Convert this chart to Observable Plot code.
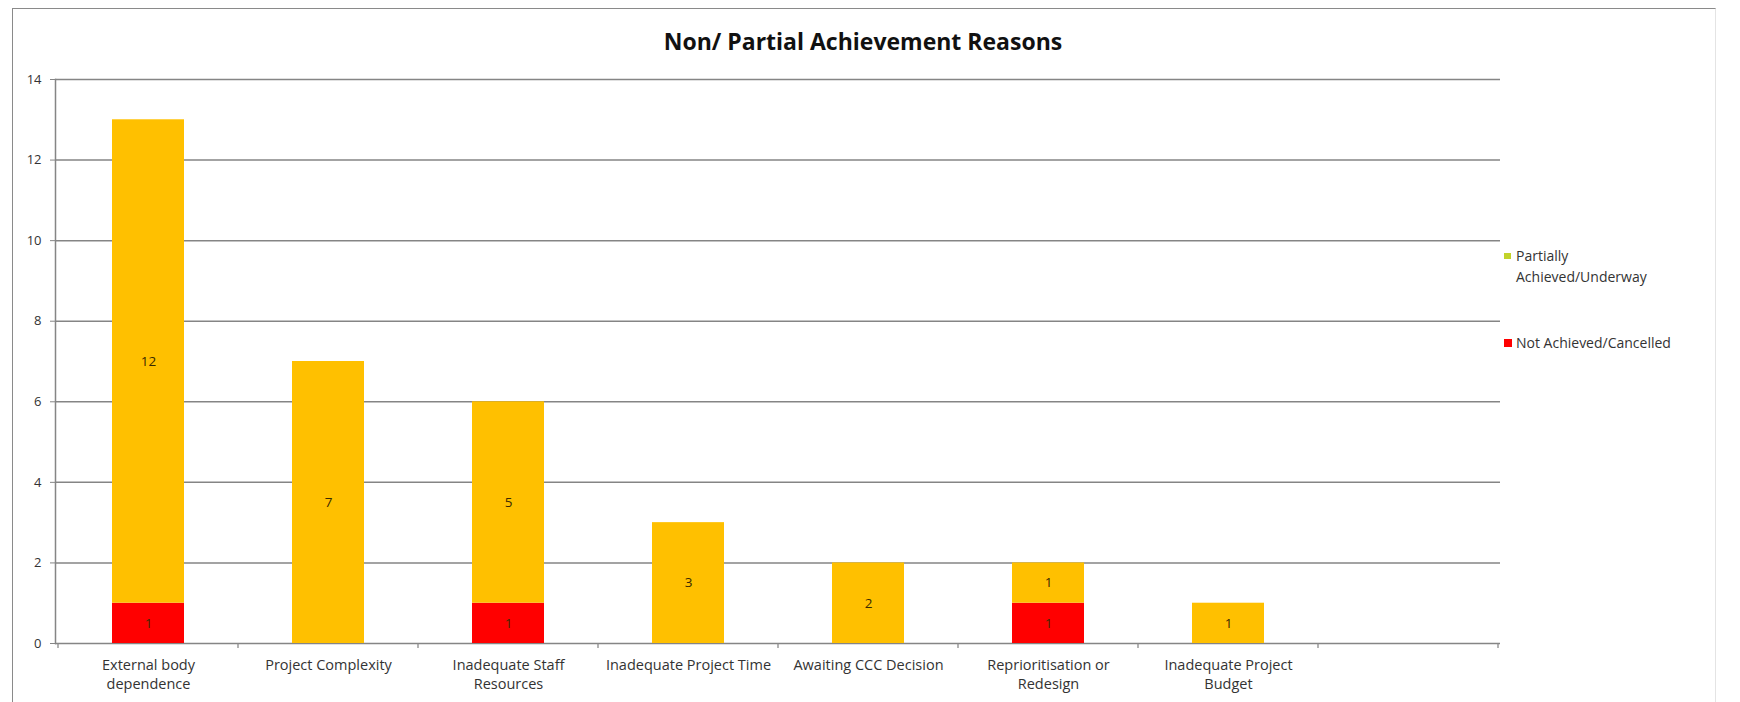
<!DOCTYPE html>
<html>
<head>
<meta charset="utf-8">
<script src="https://cdn.jsdelivr.net/npm/d3@7"></script>
<script src="https://cdn.jsdelivr.net/npm/@observablehq/plot@0.6"></script>
<style>
  html, body { margin: 0; padding: 0; background: #fff; }
  #wrap { position: relative; width: 1740px; height: 702px; overflow: hidden; font-family: "Open Sans", sans-serif; }
  #border { position: absolute; left: 12px; top: 8px; width: 1704px; height: 720px; border: 1.5px solid #8a8a8a; border-right-color: #e4e4e4; box-sizing: border-box; }
  #title { position: absolute; left: 0; width: 1726px; top: 25px; text-align: center; font-weight: 700; font-size: 23px; color: #111; }
  #chart { position: absolute; left: 0; top: 0; }
  #legend { position: absolute; left: 1504px; top: 245px; font-size: 14px; color: #333; line-height: 21px; }
  .item { position: relative; padding-left: 12px; }
  .sw { position: absolute; left: 0; }
</style>
</head>
<body>
<div id="wrap">
  <div id="border"></div>
  <div id="chart"></div>
  <div id="title">Non/ Partial Achievement Reasons</div>
  <div id="legend"></div>
</div>
<script>
// ---- data ----
const categories = ["External body dependence", "Project Complexity", "Inadequate Staff Resources", "Inadequate Project Time", "Awaiting CCC Decision", "Reprioritisation or Redesign", "Inadequate Project Budget", " "];
const tickLabels = ["External body\ndependence", "Project Complexity", "Inadequate Staff\nResources", "Inadequate Project Time", "Awaiting CCC Decision", "Reprioritisation or\nRedesign", "Inadequate Project\nBudget", ""];
const notAchieved = [1, 0, 1, 0, 0, 1, 0];
const partiallyAchieved = [12, 7, 5, 3, 2, 1, 1];
const seriesNames = ["Not Achieved/Cancelled", "Partially Achieved/Underway"];
const seriesColors = ["#ff0000", "#ffc000"];
const legendColors = ["#ff0000", "#c2d32a"];
const yTicks = [0, 2, 4, 6, 8, 10, 12, 14];
const bandPaddingInner = 0.6;

// ---- table ----
const rows = [];
notAchieved.forEach((v, i) => { if (v > 0) rows.push({cat: categories[i], series: seriesNames[0], value: v}); });
partiallyAchieved.forEach((v, i) => { if (v > 0) rows.push({cat: categories[i], series: seriesNames[1], value: v}); });

// category boundary ticks (Excel-style), positioned from the band scale
function boundaryTicks(index, scales) {
  const x = scales.x, y = scales.y;
  const pos = categories.map(c => x(c));
  const step = pos[1] - pos[0];
  const bw = step * (1 - bandPaddingInner);
  const gap = (step - bw) / 2;
  const xs = pos.map(p => p - gap);
  xs.push(pos[pos.length - 1] + bw + gap);
  const g = d3.create("svg:g");
  const y0 = y(0);
  xs.forEach(px => {
    g.append("line").attr("x1", px).attr("x2", px).attr("y1", y0).attr("y2", y0 + 5)
      .attr("stroke", "#8a8a8a").attr("stroke-width", 1.3);
  });
  return g.node();
}

const plot = Plot.plot({
  width: 1740,
  height: 702,
  marginLeft: 55,
  marginRight: 240,
  marginTop: 79,
  marginBottom: 59,
  style: {fontFamily: "'Open Sans', sans-serif", fontSize: "13px", color: "#333", background: "transparent"},
  x: {type: "band", domain: categories, paddingInner: bandPaddingInner, paddingOuter: 0.3, label: null},
  y: {domain: [0, 14], label: null},
  color: {domain: seriesNames, range: seriesColors},
  marks: [
    Plot.gridY(yTicks, {stroke: "#858585", strokeOpacity: 1, strokeWidth: 1.5}),
    Plot.frame({anchor: "left", stroke: "#858585", strokeWidth: 1.5}),
    Plot.axisY({ticks: yTicks, tickSize: 5, tickPadding: 9, stroke: "#858585", fontSize: 13}),
    Plot.axisX({tickSize: 0, tickPadding: 13, fontSize: 14.5, lineHeight: 1.32,
      tickFormat: d => tickLabels[categories.indexOf(d)]}),
    Plot.barY(rows, {x: "cat", y: "value", z: "series", fill: "series", order: seriesNames}),
    Plot.text(rows, Plot.stackY({x: "cat", y: "value", z: "series", text: "value", order: seriesNames, fill: "#3a2a00", fontSize: 13.5})),
    boundaryTicks
  ]
});
document.getElementById("chart").appendChild(plot);

// legend
const legend = document.getElementById("legend");
const legendItems = [
  {label: "Partially<br>Achieved/Underway", color: legendColors[1], top: 0, h: 6, w: 7, off: 8},
  {label: "Not Achieved/Cancelled", color: legendColors[0], top: 45, h: 8, w: 8, off: 7}
];
legendItems.forEach(it => {
  const d = document.createElement("div");
  d.className = "item";
  d.style.marginTop = it.top + "px";
  d.innerHTML = `<span class="sw" style="top:${it.off}px;width:${it.w}px;height:${it.h}px;background:${it.color}"></span>${it.label}`;
  legend.appendChild(d);
});
</script>
</body>
</html>
